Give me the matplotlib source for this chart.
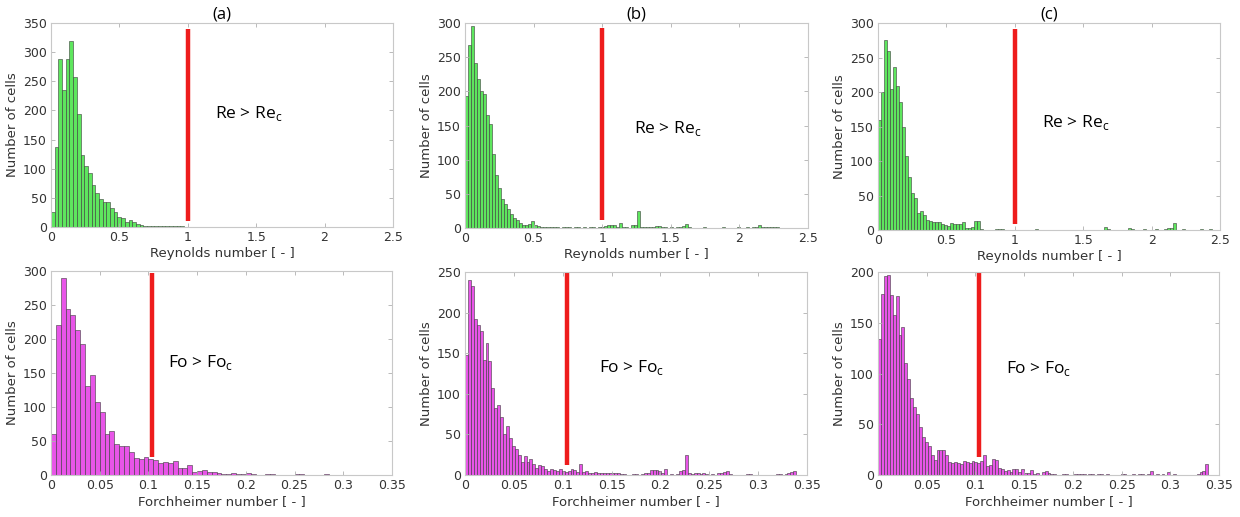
import numpy as np
import matplotlib.pyplot as plt

plt.rcParams['font.family'] = ['DejaVu Sans']
plt.rcParams['axes.linewidth'] = 0.8

# bin widths and counts
re_width_a = 0.027
re_counts_a = [26, 138, 288, 235, 288, 319, 258, 194, 123, 105,
               92, 72, 58, 48, 43, 43, 32, 26, 18, 15,
               9, 12, 9, 5, 3, 2, 2, 1, 2, 2,
               1, 2, 1, 2, 1, 1]

re_width_b = 0.022
re_counts_b = [193, 268, 295, 241, 218, 201, 196, 165, 152, 108,
               78, 58, 43, 35, 28, 20, 14, 12, 7, 4,
               5, 6, 10, 4, 3, 2, 2, 1, 1, 2,
               1, 0, 1, 2, 1, 0, 1, 1, 0, 1,
               0, 1, 1, 0, 1, 2, 3, 4, 5, 4,
               2, 7, 1, 1, 0, 4, 4, 25, 2, 1,
               1, 1, 2, 3, 3, 2, 1, 0, 1, 0,
               1, 1, 3, 6, 1, 0, 0, 0, 0, 1,
               0, 0, 0, 0, 0, 1, 0, 0, 0, 0,
               1, 0, 0, 1, 0, 1, 2, 4, 2, 1,
               1, 1, 1, 1]

re_width_c = 0.022
re_counts_c = [160, 200, 275, 260, 204, 236, 208, 186, 149, 107,
               77, 53, 46, 24, 28, 22, 15, 13, 12, 12,
               11, 8, 7, 6, 10, 9, 8, 9, 11, 3,
               3, 4, 13, 13, 1, 0, 0, 0, 0, 1,
               1, 2, 0, 0, 0, 0, 0, 0, 0, 0,
               0, 0, 1, 0, 0, 0, 0, 0, 0, 0,
               0, 0, 0, 0, 0, 0, 0, 0, 0, 0,
               0, 0, 0, 0, 0, 4, 1, 0, 0, 0,
               0, 0, 0, 3, 1, 0, 0, 0, 1, 0,
               0, 0, 1, 0, 0, 2, 3, 3, 10, 0,
               0, 1, 0, 0, 0, 0, 0, 1, 0, 0,
               1, 0]

fo_width_a = 0.005
fo_counts_a = [60, 220, 290, 244, 236, 213, 192, 131, 147, 107,
               92, 61, 64, 45, 43, 43, 34, 25, 24, 26,
               23, 22, 17, 19, 17, 20, 10, 11, 14, 5,
               6, 8, 4, 4, 3, 2, 2, 3, 2, 2,
               3, 1, 0, 0, 1, 1, 0, 0, 0, 0,
               1, 1, 0, 0, 0, 0, 1]

fo_width_b = 0.003
fo_counts_b = [148, 240, 233, 192, 185, 178, 142, 162, 141, 107,
               82, 86, 72, 50, 60, 45, 36, 32, 25, 16,
               23, 16, 20, 13, 9, 12, 11, 7, 5, 8,
               6, 5, 7, 5, 4, 5, 8, 6, 4, 14,
               4, 5, 3, 3, 4, 3, 3, 2, 3, 2,
               2, 2, 2, 1, 1, 0, 0, 1, 1, 0,
               1, 2, 2, 6, 6, 6, 5, 2, 7, 0,
               1, 0, 1, 5, 6, 25, 2, 1, 2, 2,
               1, 2, 1, 0, 1, 0, 2, 3, 4, 5,
               1, 0, 0, 0, 0, 0, 1, 1, 0, 0,
               0, 0, 0, 0, 0, 0, 1, 1, 0, 1,
               2, 4, 5]

fo_width_c = 0.003
fo_counts_c = [134, 178, 196, 197, 177, 158, 176, 138, 146, 110,
               95, 76, 67, 60, 47, 37, 33, 29, 20, 15,
               25, 25, 25, 20, 13, 12, 13, 12, 11, 14,
               13, 12, 14, 13, 12, 14, 20, 9, 10, 16,
               15, 7, 6, 4, 5, 3, 6, 6, 3, 6,
               2, 2, 5, 1, 2, 0, 3, 4, 2, 1,
               1, 0, 0, 1, 1, 0, 0, 1, 1, 1,
               1, 0, 1, 1, 0, 1, 1, 0, 1, 0,
               0, 0, 0, 1, 1, 0, 0, 1, 0, 1,
               1, 0, 1, 4, 0, 1, 0, 1, 0, 3,
               0, 1, 0, 0, 0, 0, 0, 0, 0, 1,
               3, 4, 11]

titles = ['(a)', '(b)', '(c)']
re_ymax = [350, 300, 300]
fo_ymax = [300, 250, 200]
re_line = [(10, 340), (12, 293), (9, 291)]
fo_line = [(27, 297), (12, 250), (18, 200)]
re_text = [(1.2, 195), (1.23, 146), (1.2, 156)]
fo_text = [(0.12, 165), (0.137, 133), (0.131, 105)]
re_crit = 1.0
fo_crit = 0.104

green = '#5ee65e'
magenta = '#e855e8'

top_pos = [[0.0411, 0.5609, 0.2758, 0.3946],
           [0.3750, 0.5590, 0.2766, 0.3965],
           [0.7081, 0.5551, 0.2758, 0.4004]]
bot_pos = [[0.0411, 0.0812, 0.2750, 0.3946],
           [0.3750, 0.0812, 0.2758, 0.3926],
           [0.7081, 0.0812, 0.2750, 0.3926]]

fig = plt.figure(figsize=(12.4, 5.17), dpi=100)


def style(ax, ymax):
    for s in ax.spines.values():
        s.set_color('#c8c8c8')
    ax.set_yticks(np.arange(0, ymax + 1, 50))
    ax.tick_params(direction='in', length=3, width=0.6, color='#b0b0b0',
                   labelcolor='#333333', labelsize=9, top=True, right=True, pad=3)


def hist(ax, counts, width, color):
    counts = np.array(counts)
    left = np.arange(len(counts)) * width
    ax.bar(left, counts, width=width, align='edge', color=color,
           edgecolor='#3a3a3a', linewidth=0.4)


re_sets = [(re_counts_a, re_width_a), (re_counts_b, re_width_b), (re_counts_c, re_width_c)]
fo_sets = [(fo_counts_a, fo_width_a), (fo_counts_b, fo_width_b), (fo_counts_c, fo_width_c)]

for i in range(3):
    # Reynolds row
    ax = fig.add_axes(top_pos[i])
    hist(ax, re_sets[i][0], re_sets[i][1], green)
    ax.plot([re_crit, re_crit], re_line[i], color='#ee1c1c', lw=3.2, solid_capstyle='butt')
    ax.text(re_text[i][0], re_text[i][1], r'Re > Re$_\mathregular{c}$', family='Open Sans',
            fontsize=12.5, va='center', ha='left')
    ax.set_xlim(0, 2.5)
    ax.set_ylim(0, re_ymax[i])
    ax.set_xticks([0, 0.5, 1, 1.5, 2, 2.5])
    ax.set_xticklabels(['0', '0.5', '1', '1.5', '2', '2.5'])
    ax.set_xlabel('Reynolds number [ - ]', fontsize=9.5, color='#333333', labelpad=2)
    ax.set_ylabel('Number of cells', fontsize=9.5, color='#333333', labelpad=3)
    ax.set_title(titles[i], family='Open Sans', fontsize=12, pad=3)
    style(ax, re_ymax[i])

    # Forchheimer row
    ax = fig.add_axes(bot_pos[i])
    hist(ax, fo_sets[i][0], fo_sets[i][1], magenta)
    ax.plot([fo_crit, fo_crit], fo_line[i], color='#ee1c1c', lw=3.2, solid_capstyle='butt')
    ax.text(fo_text[i][0], fo_text[i][1], r'Fo > Fo$_\mathregular{c}$', family='Open Sans',
            fontsize=12.5, va='center', ha='left')
    ax.set_xlim(0, 0.35)
    ax.set_ylim(0, fo_ymax[i])
    ax.set_xticks([0, 0.05, 0.1, 0.15, 0.2, 0.25, 0.3, 0.35])
    ax.set_xticklabels(['0', '0.05', '0.1', '0.15', '0.2', '0.25', '0.3', '0.35'])
    ax.set_xlabel('Forchheimer number [ - ]', fontsize=9.5, color='#333333', labelpad=2)
    ax.set_ylabel('Number of cells', fontsize=9.5, color='#333333', labelpad=3)
    style(ax, fo_ymax[i])

fig.savefig('out.png', dpi=100)
